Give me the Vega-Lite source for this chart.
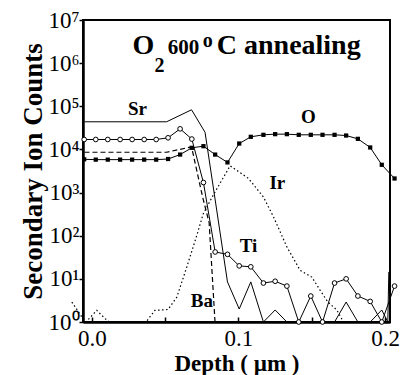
{
  "$schema": "https://vega.github.io/schema/vega-lite/v6.json",
  "width": 307,
  "height": 302,
  "autosize": {"type": "none"},
  "padding": {"left": 83, "top": 20, "right": 12, "bottom": 53},
  "background": "white",
  "config": {
    "view": {"stroke": "black", "strokeWidth": 2},
    "axis": {"grid": false, "domainColor": "black", "domainWidth": 2.5, "tickColor": "black", "tickWidth": 1.5, "labelColor": "black", "labelFont": "Liberation Serif", "labelFontSize": 23, "titleFont": "Liberation Serif", "titleColor": "black", "titleFontWeight": "bold", "labelFlush": false, "labelOverlap": false},
    "text": {"font": "Liberation Serif", "fontWeight": "bold", "color": "black"}
  },
  "datasets": {
    "series": [
      {"s": "Sr", "x": -0.005, "y": 43700}, {"s": "Sr", "x": 0.051, "y": 43700}, {"s": "Sr", "x": 0.068, "y": 83000}, {"s": "Sr", "x": 0.0772, "y": 25000}, {"s": "Sr", "x": 0.0925, "y": 8.5}, {"s": "Sr", "x": 0.1005, "y": 2.0}, {"s": "Sr", "x": 0.1084, "y": 8.5}, {"s": "Sr", "x": 0.117, "y": 1}, {"s": "Sr", "x": 0.125, "y": 1.9}, {"s": "Sr", "x": 0.133, "y": 1}, {"s": "Sr", "x": 0.1655, "y": 1}, {"s": "Sr", "x": 0.1734, "y": 2.9}, {"s": "Sr", "x": 0.1814, "y": 1}, {"s": "Sr", "x": 0.1898, "y": 1}, {"s": "Sr", "x": 0.1977, "y": 1.9}, {"s": "Sr", "x": 0.2018, "y": 1}, {"s": "Sr", "x": 0.2025, "y": 14.5},
      {"s": "Ba", "x": -0.005, "y": 8600}, {"s": "Ba", "x": 0.051, "y": 8600}, {"s": "Ba", "x": 0.068, "y": 11500}, {"s": "Ba", "x": 0.0755, "y": 800}, {"s": "Ba", "x": 0.08, "y": 200}, {"s": "Ba", "x": 0.084, "y": 1},
      {"s": "Ir", "x": -0.0136, "y": 2.9}, {"s": "Ir", "x": -0.006, "y": 1.2}, {"s": "Ir", "x": -0.004, "y": 1}, {"s": "Ir", "x": 0.0034, "y": 1.86}, {"s": "Ir", "x": 0.009, "y": 1.2}, {"s": "Ir", "x": 0.012, "y": 1}, {"s": "Ir", "x": 0.037, "y": 1}, {"s": "Ir", "x": 0.043, "y": 1.86}, {"s": "Ir", "x": 0.052, "y": 1.95}, {"s": "Ir", "x": 0.058, "y": 3.8}, {"s": "Ir", "x": 0.0648, "y": 19}, {"s": "Ir", "x": 0.0716, "y": 102}, {"s": "Ir", "x": 0.076, "y": 324}, {"s": "Ir", "x": 0.083, "y": 900}, {"s": "Ir", "x": 0.0943, "y": 4170}, {"s": "Ir", "x": 0.1068, "y": 2130}, {"s": "Ir", "x": 0.117, "y": 790}, {"s": "Ir", "x": 0.1239, "y": 272}, {"s": "Ir", "x": 0.133, "y": 55}, {"s": "Ir", "x": 0.142, "y": 15.8}, {"s": "Ir", "x": 0.15, "y": 11}, {"s": "Ir", "x": 0.1557, "y": 5.4}, {"s": "Ir", "x": 0.161, "y": 2.9}, {"s": "Ir", "x": 0.167, "y": 1.9}, {"s": "Ir", "x": 0.1716, "y": 1},
      {"s": "O", "x": -0.0052, "y": 5900}, {"s": "O", "x": 0.0027, "y": 5800}, {"s": "O", "x": 0.0109, "y": 5800}, {"s": "O", "x": 0.0193, "y": 5800}, {"s": "O", "x": 0.0275, "y": 5800}, {"s": "O", "x": 0.0357, "y": 5800}, {"s": "O", "x": 0.0439, "y": 5800}, {"s": "O", "x": 0.052, "y": 6000}, {"s": "O", "x": 0.0602, "y": 7600}, {"s": "O", "x": 0.0682, "y": 10900}, {"s": "O", "x": 0.0761, "y": 11900}, {"s": "O", "x": 0.0841, "y": 7600}, {"s": "O", "x": 0.0925, "y": 5000}, {"s": "O", "x": 0.1005, "y": 13700}, {"s": "O", "x": 0.1084, "y": 19600}, {"s": "O", "x": 0.117, "y": 21800}, {"s": "O", "x": 0.125, "y": 22600}, {"s": "O", "x": 0.133, "y": 22600}, {"s": "O", "x": 0.1411, "y": 21800}, {"s": "O", "x": 0.1493, "y": 21800}, {"s": "O", "x": 0.1573, "y": 21800}, {"s": "O", "x": 0.1655, "y": 21800}, {"s": "O", "x": 0.1734, "y": 21000}, {"s": "O", "x": 0.1814, "y": 17600}, {"s": "O", "x": 0.1898, "y": 11100}, {"s": "O", "x": 0.1977, "y": 4400}, {"s": "O", "x": 0.2064, "y": 2120},
      {"s": "Ti", "x": -0.0052, "y": 17000}, {"s": "Ti", "x": 0.0027, "y": 17000}, {"s": "Ti", "x": 0.0109, "y": 17000}, {"s": "Ti", "x": 0.0193, "y": 17000}, {"s": "Ti", "x": 0.0275, "y": 17000}, {"s": "Ti", "x": 0.0357, "y": 17000}, {"s": "Ti", "x": 0.0439, "y": 17000}, {"s": "Ti", "x": 0.052, "y": 18600}, {"s": "Ti", "x": 0.0602, "y": 30000}, {"s": "Ti", "x": 0.0682, "y": 17400}, {"s": "Ti", "x": 0.0761, "y": 1710}, {"s": "Ti", "x": 0.0841, "y": 42}, {"s": "Ti", "x": 0.0925, "y": 37}, {"s": "Ti", "x": 0.1005, "y": 20}, {"s": "Ti", "x": 0.1084, "y": 19}, {"s": "Ti", "x": 0.117, "y": 8.0}, {"s": "Ti", "x": 0.125, "y": 8.8}, {"s": "Ti", "x": 0.133, "y": 6.8}, {"s": "Ti", "x": 0.1411, "y": 1}, {"s": "Ti", "x": 0.1493, "y": 4.0}, {"s": "Ti", "x": 0.1573, "y": 1}, {"s": "Ti", "x": 0.1655, "y": 8.0}, {"s": "Ti", "x": 0.1734, "y": 10}, {"s": "Ti", "x": 0.1814, "y": 4.0}, {"s": "Ti", "x": 0.1898, "y": 3.0}, {"s": "Ti", "x": 0.1977, "y": 1}, {"s": "Ti", "x": 0.2064, "y": 6.8}
    ],
    "labels": [
      {"t": "Sr", "x": 0.0311, "y": 62500},
      {"t": "O", "x": 0.1477, "y": 41400},
      {"t": "Ir", "x": 0.1265, "y": 1180},
      {"t": "Ti", "x": 0.1068, "y": 42},
      {"t": "Ba", "x": 0.075, "y": 2.23}
    ],
    "ttl": [
      {"k": "big", "t": "O", "x": 0.0277, "y": 1600000},
      {"k": "big", "t": "C annealing", "x": 0.0852, "y": 1600000},
      {"k": "mid", "t": "600", "x": 0.0518, "y": 1600000},
      {"k": "sub", "t": "2", "x": 0.0427, "y": 631000},
      {"k": "sup", "t": "o", "x": 0.0757, "y": 2400000}
    ]
  },
  "encoding": {
    "x": {"field": "x", "type": "quantitative", "scale": {"domain": [-0.006, 0.2033], "nice": false, "zero": false},
      "axis": {"values": [0, 0.05, 0.1, 0.15, 0.2], "labelExpr": "datum.value == 0.05 || datum.value == 0.15 ? '' : format(datum.value, '.1f')", "tickSize": -5, "labelPadding": 10, "title": "Depth ( µm )", "titleFontSize": 23, "titleY": 48, "titleBaseline": "alphabetic"}},
    "y": {"field": "y", "type": "quantitative", "scale": {"type": "log", "domain": [1, 10000000], "nice": false},
      "axis": {"values": [1, 10, 100, 1000, 10000, 100000, 1000000, 10000000], "labelExpr": "'10' + ['⁰','¹','²','³','⁴','⁵','⁶','⁷'][round(log(datum.value) / LN10)]", "tickSize": 4, "labelPadding": 0, "title": "Secondary Ion Counts", "titleFontSize": 27, "titleX": -50, "titleBaseline": "middle"}}
  },
  "layer": [
    {"data": {"name": "series"}, "transform": [{"filter": "datum.s == 'Ir'"}], "mark": {"type": "line", "color": "black", "strokeWidth": 1.2, "strokeDash": [1.5, 2.5]}},
    {"data": {"name": "series"}, "transform": [{"filter": "datum.s == 'Ba'"}], "mark": {"type": "line", "color": "black", "strokeWidth": 1.2, "strokeDash": [5, 3]}},
    {"data": {"name": "series"}, "transform": [{"filter": "datum.s == 'Sr'"}], "mark": {"type": "line", "color": "black", "strokeWidth": 1}},
    {"data": {"name": "series"}, "transform": [{"filter": "datum.s == 'O'"}], "mark": {"type": "line", "color": "black", "strokeWidth": 1}},
    {"data": {"name": "series"}, "transform": [{"filter": "datum.s == 'O'"}], "mark": {"type": "point", "shape": "square", "filled": true, "color": "black", "size": 18, "opacity": 1}},
    {"data": {"name": "series"}, "transform": [{"filter": "datum.s == 'Ti'"}], "mark": {"type": "line", "color": "black", "strokeWidth": 1}},
    {"data": {"name": "series"}, "transform": [{"filter": "datum.s == 'Ti'"}], "mark": {"type": "point", "shape": "circle", "filled": true, "fill": "white", "stroke": "black", "strokeWidth": 1, "size": 22, "opacity": 1}},
    {"data": {"name": "labels"}, "mark": {"type": "text", "align": "center", "baseline": "alphabetic", "fontSize": 19}, "encoding": {"text": {"field": "t"}}},
    {"data": {"name": "ttl"}, "transform": [{"filter": "datum.k == 'big'"}], "mark": {"type": "text", "align": "left", "baseline": "alphabetic", "fontSize": 28}, "encoding": {"text": {"field": "t"}}},
    {"data": {"name": "ttl"}, "transform": [{"filter": "datum.k == 'mid'"}], "mark": {"type": "text", "align": "left", "baseline": "alphabetic", "fontSize": 21}, "encoding": {"text": {"field": "t"}}},
    {"data": {"name": "ttl"}, "transform": [{"filter": "datum.k == 'sub'"}], "mark": {"type": "text", "align": "left", "baseline": "alphabetic", "fontSize": 20}, "encoding": {"text": {"field": "t"}}},
    {"data": {"name": "ttl"}, "transform": [{"filter": "datum.k == 'sup'"}], "mark": {"type": "text", "align": "left", "baseline": "alphabetic", "fontSize": 20}, "encoding": {"text": {"field": "t"}}}
  ]
}
